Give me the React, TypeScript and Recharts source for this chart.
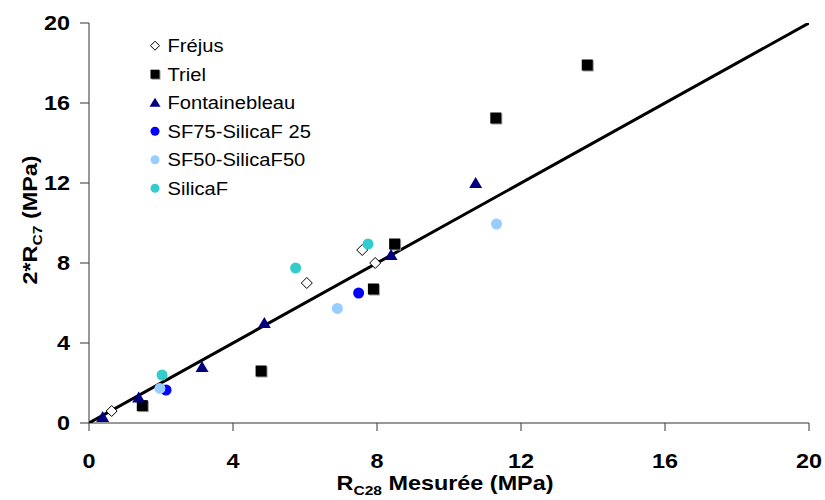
import React from "react";
import { ScatterChart, Scatter, XAxis, YAxis } from "recharts";

const FONT = "'Liberation Sans', Arial, sans-serif";
const NAVY = "#000080";
const BLUE = "#0000ff";
const LIGHT_BLUE = "#99ccff";
const TURQUOISE = "#33cccc";

const TICKS = [0, 4, 8, 12, 16, 20];

const frejus = [
  { x: 0.63, y: 0.6 },
  { x: 6.05, y: 7.0 },
  { x: 7.59, y: 8.65 },
  { x: 7.95, y: 8.0 },
];
const triel = [
  { x: 1.48, y: 0.87 },
  { x: 4.78, y: 2.6 },
  { x: 7.9, y: 6.7 },
  { x: 8.49, y: 8.95 },
  { x: 11.3, y: 15.25 },
  { x: 13.84, y: 17.9 },
];
const fontainebleau = [
  { x: 0.38, y: 0.3 },
  { x: 1.38, y: 1.27 },
  { x: 3.14, y: 2.8 },
  { x: 4.87, y: 5.0 },
  { x: 8.39, y: 8.4 },
  { x: 10.74, y: 12.0 },
];
const sf75 = [
  { x: 2.14, y: 1.65 },
  { x: 7.49, y: 6.5 },
];
const sf50 = [
  { x: 1.97, y: 1.73 },
  { x: 6.9, y: 5.73 },
  { x: 11.32, y: 9.95 },
];
const silicaF = [
  { x: 2.03, y: 2.4 },
  { x: 5.74, y: 7.75 },
  { x: 7.75, y: 8.95 },
];
// y = x reference line
const identity = [
  { x: 0, y: 0 },
  { x: 20, y: 20 },
];

type Kind = "diamond" | "square" | "triangle" | "circle";

function Marker({ kind, cx, cy, color, s = 5.5 }: { kind: Kind; cx: number; cy: number; color: string; s?: number }) {
  if (kind === "diamond")
    return (
      <path
        d={`M${cx},${cy - s} L${cx + s},${cy} L${cx},${cy + s} L${cx - s},${cy} Z`}
        fill="#fff"
        stroke="#000"
        strokeWidth={1}
      />
    );
  if (kind === "square")
    return (
      <g>
        <rect x={cx - s + 1} y={cy - s + 1} width={2 * s} height={2 * s} fill="#9a9a9a" />
        <rect x={cx - s} y={cy - s} width={2 * s} height={2 * s} fill={color} />
      </g>
    );
  if (kind === "triangle")
    return (
      <path
        d={`M${cx},${cy - s - 0.5} L${cx + s + 1},${cy + s - 0.5} L${cx - s - 1},${cy + s - 0.5} Z`}
        fill={color}
      />
    );
  return <circle cx={cx} cy={cy} r={s} fill={color} />;
}

const shapeOf = (kind: Kind, color: string) => (p: any) =>
  <Marker kind={kind} cx={p.cx} cy={p.cy} color={color} />;

const SERIES: { name: string; data: { x: number; y: number }[]; kind: Kind; color: string }[] = [
  { name: "Fréjus", data: frejus, kind: "diamond", color: "#000" },
  { name: "Triel", data: triel, kind: "square", color: "#000" },
  { name: "Fontainebleau", data: fontainebleau, kind: "triangle", color: NAVY },
  { name: "SF75-SilicaF 25", data: sf75, kind: "circle", color: BLUE },
  { name: "SF50-SilicaF50", data: sf50, kind: "circle", color: LIGHT_BLUE },
  { name: "SilicaF", data: silicaF, kind: "circle", color: TURQUOISE },
];

function XTick({ x, payload }: any) {
  return (
    <text
      transform={`translate(${x},468) scale(1.2,1)`}
      textAnchor="middle"
      fontFamily={FONT}
      fontWeight="bold"
      fontSize={19.5}
      fill="#000"
    >
      {payload.value}
    </text>
  );
}

function YTick({ y, payload }: any) {
  return (
    <text
      transform={`translate(70,${y + 7}) scale(1.2,1)`}
      textAnchor="end"
      fontFamily={FONT}
      fontWeight="bold"
      fontSize={19.5}
      fill="#000"
    >
      {payload.value}
    </text>
  );
}

function Legendary() {
  return (
    <g>
      {SERIES.map((s, i) => {
        const y = 45.7 + i * 28.5;
        return (
          <g key={s.name}>
            <Marker kind={s.kind} cx={155} cy={y} color={s.color} s={4.5} />
            <text
              transform={`translate(167.5,${y + 6.5}) scale(1.09,1)`}
              fontFamily={FONT}
              fontSize={18.5}
              fill="#000"
            >
              {s.name}
            </text>
          </g>
        );
      })}
    </g>
  );
}

function Titles() {
  return (
    <g fontFamily={FONT} fontWeight="bold" fill="#000">
      <text transform="translate(445,490) scale(1.2,1)" textAnchor="middle" fontSize={19.5}>
        R<tspan fontSize={13} dy={5}>C28</tspan>
        <tspan dy={-5}> Mesurée (MPa)</tspan>
      </text>
      <text transform="translate(37,220) rotate(-90) scale(1.2,1)" textAnchor="middle" fontSize={19.5}>
        2*R<tspan fontSize={13} dy={5}>C7</tspan>
        <tspan dy={-5}> (MPa)</tspan>
      </text>
    </g>
  );
}

export default function App() {
  return (
    <div style={{ position: "absolute", left: 0, top: 0, background: "#fff" }}>
      <ScatterChart width={825} height={500} margin={{ top: 23, right: 16, bottom: 0, left: 0 }}>
        <XAxis
          type="number"
          dataKey="x"
          domain={[0, 20]}
          ticks={TICKS}
          height={77}
          tickSize={8}
          stroke="#333"
          tick={<XTick />}
          allowDataOverflow
        />
        <YAxis
          type="number"
          dataKey="y"
          domain={[0, 20]}
          ticks={TICKS}
          width={89}
          tickSize={9}
          stroke="#333"
          tick={<YTick />}
          allowDataOverflow
        />
        <Scatter
          name="y=x"
          data={identity}
          line={{ stroke: "#000", strokeWidth: 3 }}
          shape={() => null}
          isAnimationActive={false}
          legendType="none"
        />
        {SERIES.map((s) => (
          <Scatter
            key={s.name}
            name={s.name}
            data={s.data}
            shape={shapeOf(s.kind, s.color)}
            isAnimationActive={false}
          />
        ))}
        <Legendary />
        <Titles />
      </ScatterChart>
    </div>
  );
}
